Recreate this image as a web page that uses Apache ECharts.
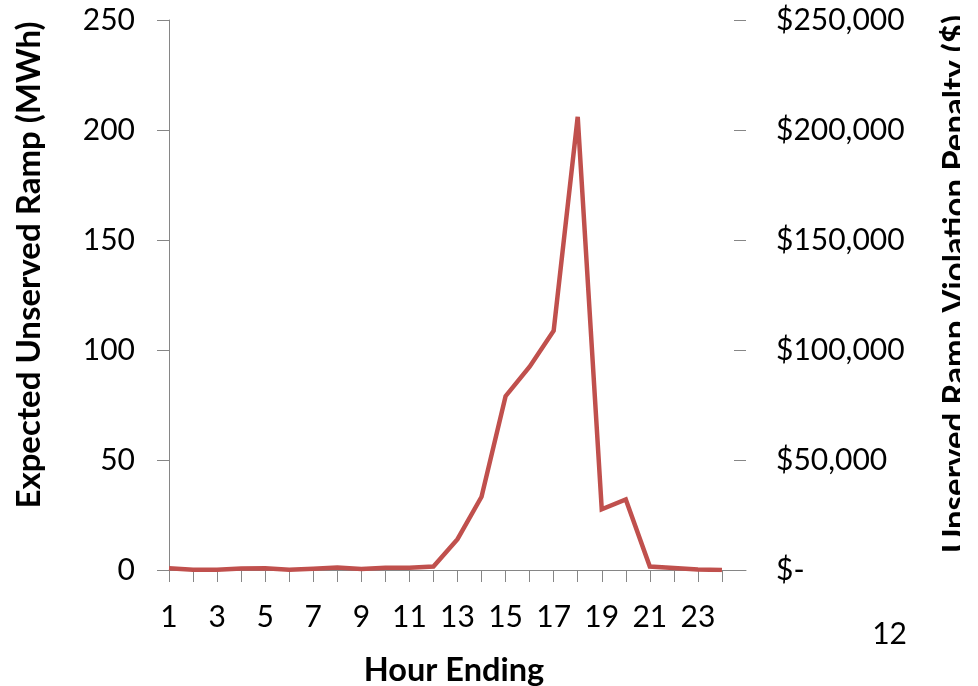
<!DOCTYPE html>
<html>
<head>
<meta charset="utf-8">
<script src="https://cdn.jsdelivr.net/npm/echarts@6/dist/echarts.min.js"></script>
<style>
  html, body { margin: 0; padding: 0; background: #ffffff; }
  #chart { width: 960px; height: 686px; }
</style>
</head>
<body>
<div id="chart"></div>
<script>
// Hour ending (1..24)
var hours = [1, 2, 3, 4, 5, 6, 7, 8, 9, 10, 11, 12, 13, 14, 15, 16, 17, 18, 19, 20, 21, 22, 23, 24];
// Expected unserved ramp per hour (MWh)
var unservedRamp = [0.8, 0.1, 0.1, 0.7, 0.8, 0.1, 0.6, 1.1, 0.4, 1.0, 1.0, 1.6, 14, 33.3, 79, 92.4, 108.8, 206, 27.6, 32.1, 1.6, 0.9, 0.2, 0];
// Labelled hours on the category axis
var hourLabels = [1, 3, 5, 7, 9, 11, 13, 15, 17, 19, 21, 23];
// Tick values for the two vertical axes
var rampTicks = [0, 50, 100, 150, 200, 250];
var penaltyTicks = [0, 50000, 100000, 150000, 200000, 250000];

var FONT = 'Lato, "Open Sans", sans-serif';
var AXIS_GRAY = '#868686';

var chart = echarts.init(document.getElementById('chart'), null, { renderer: 'canvas' });

function money(v) {
  if (v === 0) return '$-';
  return '$' + v.toLocaleString('en-US');
}

chart.setOption({
  animation: false,
  backgroundColor: '#ffffff',
  grid: { left: 169, right: 960 - 746, top: 20, bottom: 686 - 570, containLabel: false },
  xAxis: {
    type: 'value',
    min: 1,
    max: 25,
    interval: 1,
    axisLine: { show: true, lineStyle: { color: AXIS_GRAY, width: 1 } },
    axisTick: { show: true, length: 12, customValues: hours, lineStyle: { color: AXIS_GRAY } },
    axisLabel: { customValues: hourLabels, margin: 32, color: '#000', fontFamily: FONT, fontSize: 30 },
    splitLine: { show: false }
  },
  yAxis: [
    {
      type: 'value',
      position: 'left',
      min: rampTicks[0],
      max: rampTicks[rampTicks.length - 1],
      interval: 50,
      axisLine: { show: true, lineStyle: { color: AXIS_GRAY, width: 1 } },
      axisTick: { show: true, length: 12, lineStyle: { color: AXIS_GRAY } },
      axisLabel: { margin: 34, color: '#000', fontFamily: FONT, fontSize: 30 },
      splitLine: { show: false }
    },
    {
      type: 'value',
      position: 'right',
      min: penaltyTicks[0],
      max: penaltyTicks[penaltyTicks.length - 1],
      interval: 50000,
      axisLine: { show: false },
      axisTick: { show: true, inside: true, length: 12, lineStyle: { color: AXIS_GRAY } },
      axisLabel: { margin: 30, color: '#000', fontFamily: FONT, fontSize: 30, formatter: money },
      splitLine: { show: false }
    }
  ],
  series: [
    {
      type: 'line',
      xAxisIndex: 0,
      yAxisIndex: 0,
      data: hours.map(function (h, i) { return [h, unservedRamp[i]]; }),
      showSymbol: false,
      symbol: 'none',
      lineStyle: { color: '#C0504D', width: 4.5, join: 'miter' },
      itemStyle: { color: '#C0504D' }
    }
  ],
  graphic: [
    {
      type: 'text', x: 29, y: 265, rotation: Math.PI / 2,
      style: { text: 'Expected Unserved Ramp (MWh)', font: 'bold 33px ' + FONT, fill: '#000', textAlign: 'center', textVerticalAlign: 'middle' }
    },
    {
      type: 'text', x: 955, y: 284, rotation: Math.PI / 2,
      style: { text: 'Unserved Ramp Violation Penalty ($)', font: 'bold 33px ' + FONT, fill: '#000', textAlign: 'center', textVerticalAlign: 'middle' }
    },
    {
      type: 'text', x: 454, y: 671,
      style: { text: 'Hour Ending', font: 'bold 32.5px ' + FONT, fill: '#000', textAlign: 'center', textVerticalAlign: 'middle' }
    },
    {
      type: 'text', x: 907, y: 634,
      style: { text: '12', font: '30px ' + FONT, fill: '#000', textAlign: 'right', textVerticalAlign: 'middle' }
    }
  ]
});
</script>
</body>
</html>
